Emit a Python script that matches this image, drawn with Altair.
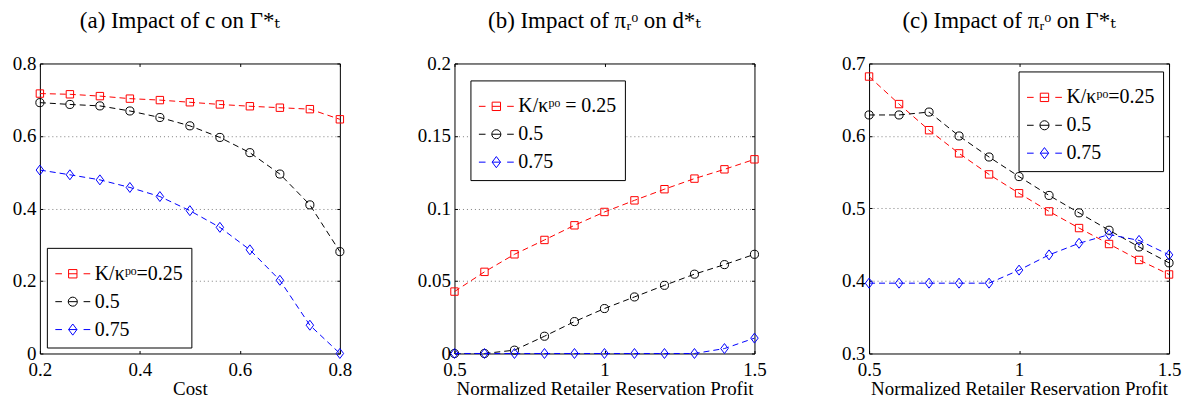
import altair as alt
import pandas as pd

# ---------------- data ----------------
cost_x = [0.20, 0.26, 0.32, 0.38, 0.44, 0.50, 0.56, 0.62, 0.68, 0.74, 0.80]
a_k025 = [0.717, 0.715, 0.710, 0.703, 0.699, 0.693, 0.687, 0.682, 0.678, 0.674, 0.646]
a_k05 = [0.692, 0.687, 0.683, 0.669, 0.651, 0.628, 0.596, 0.554, 0.495, 0.410, 0.281]
a_k075 = [0.506, 0.493, 0.479, 0.458, 0.433, 0.394, 0.348, 0.286, 0.202, 0.078, 0.000]

profit_x = [0.5, 0.6, 0.7, 0.8, 0.9, 1.0, 1.1, 1.2, 1.3, 1.4, 1.5]
b_k025 = [0.0427, 0.0563, 0.0684, 0.0783, 0.0884, 0.0976, 0.1056, 0.1133, 0.1206, 0.1270, 0.1339]
b_k05 = [0.0, 0.0, 0.0023, 0.0119, 0.0220, 0.0310, 0.0390, 0.0470, 0.0547, 0.0613, 0.0684]
b_k075 = [0.0, 0.0, 0.0, 0.0, 0.0, 0.0, 0.0, 0.0, 0.0, 0.0034, 0.0106]

c_k025 = [0.682, 0.644, 0.608, 0.576, 0.547, 0.521, 0.496, 0.473, 0.451, 0.429, 0.409]
c_k05 = [0.629, 0.629, 0.633, 0.600, 0.571, 0.544, 0.518, 0.494, 0.470, 0.447, 0.425]
c_k075 = [0.397, 0.397, 0.397, 0.397, 0.397, 0.415, 0.436, 0.452, 0.464, 0.456, 0.436]

labels_a = ["K/κᵖᵒ=0.25", "0.5", "0.75"]
labels_b = ["K/κᵖᵒ = 0.25", "0.5", "0.75"]
labels_c = ["K/κᵖᵒ=0.25", "0.5", "0.75"]

titles = ["(a) Impact of c on Γ*ₜ", "(b) Impact of πᵣᵒ on d*ₜ", "(c) Impact of πᵣᵒ on Γ*ₜ"]
x_titles = ["Cost", "Normalized Retailer Reservation Profit", "Normalized Retailer Reservation Profit"]

ticks_x_a = [0.2, 0.4, 0.6, 0.8]
ticks_y_a = [0, 0.2, 0.4, 0.6, 0.8]
ticks_x_bc = [0.5, 1, 1.5]
ticks_y_b = [0, 0.05, 0.1, 0.15, 0.2]
ticks_y_c = [0.3, 0.4, 0.5, 0.6, 0.7]

# ---------------- style ----------------
SERIF = "Times New Roman, Liberation Serif, DejaVu Serif, serif"
FS = 19
W, H = 301, 291
COLORS = ["#ff0000", "#000000", "#0000ff"]
SHAPES = ["square", "circle", "M0,-1L0.75,0L0,1L-0.75,0Z"]
SIZES = [55, 66, 100]
LEG_PATHS = [
    "M-1,0H-0.62M-0.24,-0.24H0.24V0.24H-0.24ZM-0.24,0H0.24M0.62,0H1",
    "M-1,0H-0.62M-0.26,0A0.26,0.26,0,1,0,0.26,0A0.26,0.26,0,1,0,-0.26,0M-0.26,0H0.26M0.62,0H1",
    "M-1,0H-0.62M0,-0.32L0.24,0L0,0.32L-0.24,0ZM-0.24,0H0.24M0.62,0H1",
]


def panel(xs, series, labels, xdom, ydom, xticks, yticks, xtitle, title, lx, ly):
    rows = []
    for lab, vals in zip(labels, series):
        for x, v in zip(xs, vals):
            rows.append({"x": x, "y": v, "series": lab})
    df = pd.DataFrame(rows)

    xsc = alt.Scale(domain=xdom, nice=False, zero=False)
    ysc = alt.Scale(domain=ydom, nice=False, zero=False)

    lo, hi = ydom
    grid_op = {"condition": {"test": f"datum.value <= {lo} || datum.value >= {hi}", "value": 0}, "value": 1}

    x_axes = [
        alt.Axis(orient="bottom", values=xticks, format="~g", ticks=False, tickSize=0, domain=False,
                 grid=False, labelFont=SERIF, labelFontSize=FS, labelColor="black", labelPadding=7,
                 labelFlush=False, labelOverlap=False, title=xtitle, titleFont=SERIF, titleFontSize=FS,
                 titleFontWeight="normal", titleColor="black", titlePadding=0),
        alt.Axis(orient="top", offset=-H, values=xticks, labels=False, domain=False, grid=False,
                 ticks=True, tickSize=3, tickColor="black", title=None, minExtent=0, maxExtent=0),
        alt.Axis(orient="bottom", offset=-H, values=xticks, labels=False, domain=False, grid=False,
                 ticks=True, tickSize=3, tickColor="black", title=None, minExtent=0, maxExtent=0),
    ]
    y_axes = [
        alt.Axis(orient="left", values=yticks, format="~g", ticks=False, tickSize=0, domain=False,
                 grid=True, gridDash=[1, 3], gridColor="#808080", gridOpacity=grid_op,
                 labelFont=SERIF, labelFontSize=FS, labelColor="black", labelPadding=4,
                 labelFlush=False, labelOverlap=False, title=None, minExtent=31, maxExtent=31),
        alt.Axis(orient="right", offset=-W, values=yticks, labels=False, domain=False, grid=False,
                 ticks=True, tickSize=3, tickColor="black", title=None, minExtent=0, maxExtent=0),
        alt.Axis(orient="left", offset=-W, values=yticks, labels=False, domain=False, grid=False,
                 ticks=True, tickSize=3, tickColor="black", title=None, minExtent=0, maxExtent=0),
    ]

    layers = []
    for i, (lab, col, shp, sz) in enumerate(zip(labels, COLORS, SHAPES, SIZES)):
        sub = alt.Chart(df).transform_filter(alt.datum.series == lab)
        line = sub.mark_line(color=col, strokeWidth=1, strokeDash=[6, 4]).encode(
            x=alt.X("x:Q", scale=xsc, axis=x_axes[i]),
            y=alt.Y("y:Q", scale=ysc, axis=y_axes[i]),
        )
        pts = sub.mark_point(shape=shp, size=sz, color=col, filled=False, opacity=1, strokeWidth=1).encode(
            x=alt.X("x:Q", scale=xsc, axis=None),
            y=alt.Y("y:Q", scale=ysc, axis=None),
        )
        layers += [line, pts]

    def leg():
        return alt.Legend(orient="none", legendX=lx, legendY=ly, title=None)

    legend_layer = alt.Chart(df).transform_filter("false").mark_point(
        filled=False, opacity=1, strokeWidth=1).encode(
        color=alt.Color("series:N", scale=alt.Scale(domain=labels, range=COLORS), legend=leg()),
        shape=alt.Shape("series:N", scale=alt.Scale(domain=labels, range=LEG_PATHS), legend=leg()),
    )
    layers.append(legend_layer)

    return alt.layer(*layers).resolve_axis(x="independent", y="independent").properties(
        width=W, height=H,
        title=alt.TitleParams(title, font=SERIF, fontSize=23, fontWeight="normal", anchor="middle",
                              dx=-10, offset=22, color="black"),
    )


pa = panel(cost_x, [a_k025, a_k05, a_k075], labels_a, [0.2, 0.8], [0, 0.8],
           ticks_x_a, ticks_y_a, x_titles[0], titles[0], 7, 185)
pb = panel(profit_x, [b_k025, b_k05, b_k075], labels_b, [0.5, 1.5], [0, 0.2],
           ticks_x_bc, ticks_y_b, x_titles[1], titles[1], 16, 17)
pc = panel(profit_x, [c_k025, c_k05, c_k075], labels_c, [0.5, 1.5], [0.3, 0.7],
           ticks_x_bc, ticks_y_c, x_titles[2], titles[2], 150, 8)

chart = alt.hconcat(pa, pb, pc, spacing=115, bounds="flush").resolve_scale(
    color="independent", shape="independent"
).resolve_legend(color="independent", shape="independent").properties(
    padding={"left": 0, "top": 0, "right": 0, "bottom": 0}
).configure(font=SERIF).configure_view(stroke="black", strokeWidth=1).configure_legend(
    symbolSize=1225, symbolStrokeWidth=1, labelFont=SERIF, labelFontSize=20, labelColor="black",
    labelOffset=4, rowPadding=-7, padding=8, fillColor="white", strokeColor="black", labelLimit=300,
)

chart.save("out.html", embed_options={"renderer": "svg", "actions": False})
